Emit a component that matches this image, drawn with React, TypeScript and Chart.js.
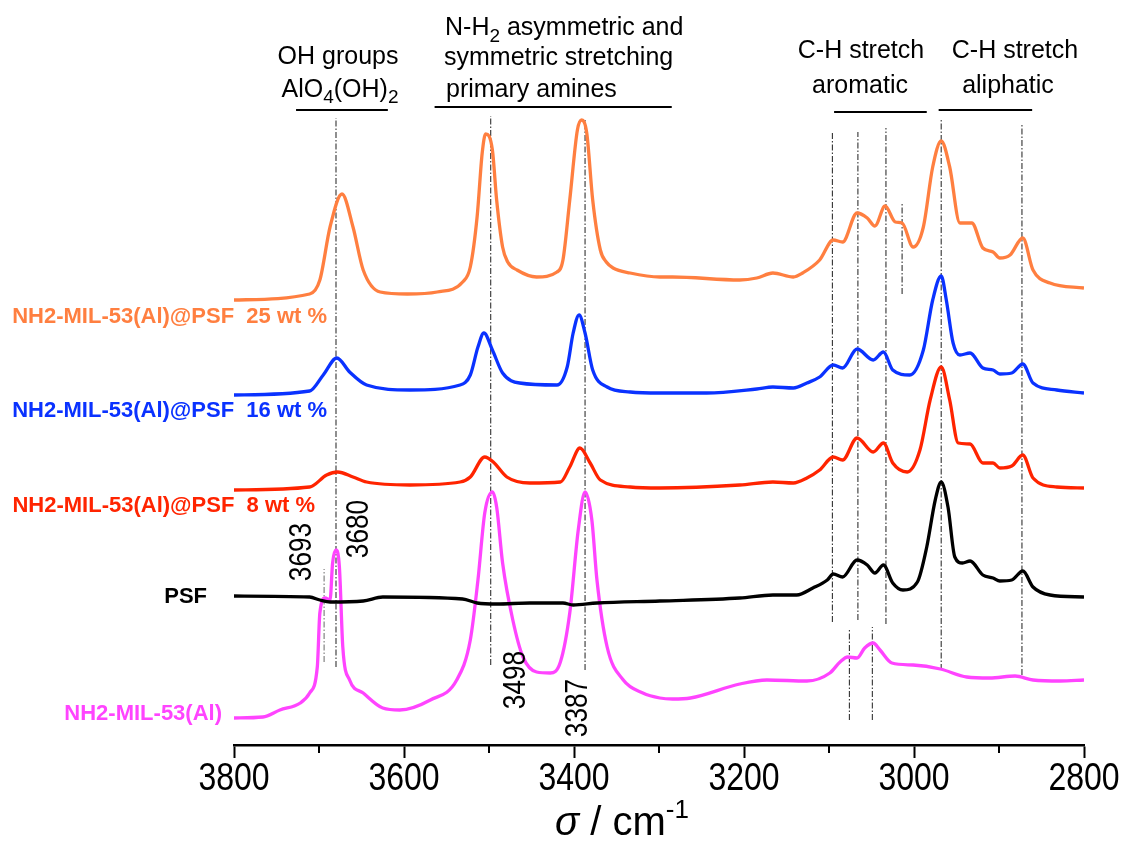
import React, { useEffect, useRef } from 'react';
import { Chart, registerables } from 'chart.js';

Chart.register(...registerables);

// ---------- DATA (wavenumber in cm-1, intensity in offset a.u.) ----------
const xTickLabels = [3800, 3600, 3400, 3200, 3000, 2800];

const wn25 = [3800, 3711, 3699, 3687, 3673, 3660, 3648, 3628, 3596, 3561, 3531, 3522, 3514, 3508, 3504, 3496, 3491, 3484, 3478, 3467, 3444, 3420, 3413, 3405, 3396, 3391, 3385, 3378, 3369, 3362, 3354, 3334, 3299, 3284, 3205, 3185, 3166, 3142, 3131, 3111, 3095, 3084, 3067, 3055, 3046, 3034, 3022, 3014, 3001, 2989, 2978, 2968, 2958, 2946, 2932, 2919, 2907, 2899, 2887, 2872, 2860, 2840, 2800];
const int25 = [4.45, 4.51, 4.65, 5.18, 5.51, 5.18, 4.75, 4.53, 4.51, 4.53, 4.63, 4.78, 5.28, 5.92, 6.11, 5.95, 5.45, 4.98, 4.83, 4.75, 4.68, 4.73, 4.85, 5.45, 6.15, 6.25, 6.12, 5.45, 4.95, 4.83, 4.77, 4.72, 4.68, 4.68, 4.65, 4.67, 4.72, 4.68, 4.72, 4.85, 5.05, 5.03, 5.32, 5.27, 5.19, 5.39, 5.23, 5.22, 4.98, 5.18, 5.78, 6.04, 5.78, 5.22, 5.22, 4.97, 4.93, 4.87, 4.90, 5.07, 4.75, 4.62, 4.57];

const wn16 = [3800, 3711, 3695, 3679, 3664, 3644, 3593, 3534, 3522, 3513, 3506, 3496, 3484, 3464, 3420, 3408, 3401, 3394, 3387, 3378, 3361, 3334, 3299, 3244, 3185, 3166, 3142, 3126, 3111, 3095, 3084, 3067, 3048, 3036, 3025, 3005, 2989, 2978, 2968, 2962, 2954, 2946, 2934, 2919, 2907, 2899, 2885, 2872, 2860, 2832, 2800];
const int16 = [3.50, 3.54, 3.70, 3.87, 3.73, 3.60, 3.55, 3.60, 3.70, 3.98, 4.12, 3.95, 3.72, 3.62, 3.60, 3.78, 4.12, 4.30, 4.12, 3.75, 3.58, 3.53, 3.52, 3.52, 3.56, 3.58, 3.57, 3.62, 3.68, 3.80, 3.77, 3.96, 3.85, 3.93, 3.75, 3.70, 3.95, 4.45, 4.69, 4.45, 4.02, 3.90, 3.92, 3.77, 3.75, 3.71, 3.72, 3.81, 3.62, 3.55, 3.52];

const wn8 = [3800, 3711, 3691, 3678, 3660, 3644, 3593, 3534, 3522, 3505, 3495, 3479, 3452, 3416, 3405, 3393, 3381, 3369, 3334, 3299, 3205, 3166, 3142, 3126, 3111, 3095, 3084, 3067, 3048, 3036, 3025, 3008, 2993, 2981, 2968, 2958, 2948, 2934, 2919, 2907, 2899, 2885, 2872, 2860, 2832, 2800];
const int8 = [2.55, 2.58, 2.70, 2.73, 2.68, 2.63, 2.60, 2.63, 2.68, 2.88, 2.83, 2.68, 2.62, 2.63, 2.78, 2.97, 2.82, 2.65, 2.58, 2.57, 2.60, 2.63, 2.62, 2.67, 2.75, 2.88, 2.85, 3.07, 2.93, 3.02, 2.82, 2.73, 2.95, 3.45, 3.78, 3.45, 3.02, 3.01, 2.82, 2.82, 2.77, 2.79, 2.90, 2.67, 2.58, 2.57];

const wnPSF = [3800, 3711, 3699, 3687, 3648, 3625, 3531, 3514, 3491, 3452, 3413, 3401, 3373, 3299, 3205, 3166, 3138, 3119, 3102, 3095, 3084, 3067, 3055, 3046, 3036, 3025, 3013, 2996, 2985, 2975, 2968, 2960, 2952, 2943, 2934, 2919, 2907, 2899, 2885, 2872, 2860, 2840, 2800];
const intPSF = [1.49, 1.48, 1.45, 1.43, 1.44, 1.48, 1.46, 1.42, 1.41, 1.42, 1.42, 1.40, 1.42, 1.44, 1.47, 1.50, 1.50, 1.57, 1.65, 1.71, 1.68, 1.85, 1.80, 1.72, 1.80, 1.62, 1.55, 1.63, 1.98, 2.45, 2.63, 2.38, 1.88, 1.82, 1.84, 1.70, 1.67, 1.64, 1.65, 1.74, 1.58, 1.50, 1.48];

const wnMOF = [3800, 3766, 3746, 3722, 3711, 3702, 3699, 3693, 3687, 3684, 3680, 3676, 3672, 3664, 3648, 3625, 3605, 3569, 3538, 3522, 3513, 3505, 3496, 3491, 3484, 3472, 3460, 3444, 3428, 3416, 3405, 3395, 3387, 3379, 3373, 3361, 3342, 3319, 3299, 3284, 3263, 3205, 3173, 3126, 3099, 3087, 3078, 3067, 3058, 3048, 3040, 3026, 3001, 2969, 2938, 2911, 2881, 2860, 2828, 2800];
const intMOF = [0.27, 0.28, 0.35, 0.42, 0.52, 0.78, 1.32, 1.47, 1.45, 1.82, 1.95, 1.78, 0.98, 0.65, 0.52, 0.37, 0.35, 0.45, 0.65, 1.05, 1.65, 2.32, 2.53, 2.38, 1.82, 1.25, 0.88, 0.73, 0.72, 0.83, 1.32, 2.15, 2.53, 2.25, 1.65, 0.98, 0.65, 0.52, 0.47, 0.46, 0.47, 0.61, 0.65, 0.64, 0.72, 0.83, 0.88, 0.87, 0.97, 1.02, 0.95, 0.82, 0.80, 0.76, 0.68, 0.67, 0.69, 0.65, 0.64, 0.65];

// reference (dash-dot) lines: wavenumber, lower and upper intensity
const refWn = [3680, 3694, 3498, 3387, 3096, 3066, 3033, 3014, 2968, 2873, 3076, 3049];
const refLow = [0.78, 0.83, 0.80, 0.75, 1.23, 1.25, 1.21, 4.51, 0.75, 0.70, 0.25, 0.25];
const refHigh = [6.27, 1.76, 6.29, 6.25, 6.12, 6.13, 6.17, 5.43, 6.25, 6.21, 1.16, 1.18];

// group brackets: start/end wavenumber, level
const bracketFrom = [3727, 3564, 3094, 2971];
const bracketTo = [3619, 3285, 2985, 2861];
const bracketLevel = [6.35, 6.38, 6.33, 6.35];

const seriesNames = ['NH2-MIL-53(Al)@PSF  25 wt %', 'NH2-MIL-53(Al)@PSF  16 wt %', 'NH2-MIL-53(Al)@PSF  8 wt %', 'PSF', 'NH2-MIL-53(Al)'];
const peakLabels = ['3693', '3680', '3498', '3387'];

// ---------- styling ----------
const COLORS = ['#FF7F40', '#0A32FF', '#FF2400', '#000000', '#FF44FF'];
const SANS = '"Liberation Sans", Arial, Helvetica, sans-serif';
const CONDENSE = 0.82;

const zip = (xs: number[], ys: number[]) => xs.map((x, i) => ({ x, y: ys[i] }));

type Part = { t: string; sub?: boolean; sup?: boolean; italic?: boolean };

function drawRich(ctx: CanvasRenderingContext2D, parts: Part[], x: number, y: number, align: 'left' | 'center' | 'right', size: number, family: string, subSize: number, subShift: number) {
  const fontFor = (p: Part) => `${p.italic ? 'italic ' : ''}${p.sub || p.sup ? subSize : size}px ${family}`;
  let total = 0;
  for (const p of parts) {
    ctx.font = fontFor(p);
    total += ctx.measureText(p.t).width;
  }
  let cx = align === 'left' ? x : align === 'center' ? x - total / 2 : x - total;
  ctx.textAlign = 'left';
  ctx.textBaseline = 'alphabetic';
  for (const p of parts) {
    ctx.font = fontFor(p);
    const dy = p.sub ? subShift : p.sup ? -subShift : 0;
    ctx.fillText(p.t, cx, y + dy);
    cx += ctx.measureText(p.t).width;
  }
}

const textPlugin = {
  id: 'annotText',
  afterDraw(chart: any) {
    const ctx: CanvasRenderingContext2D = chart.ctx;
    const xs = chart.scales.x;
    const area = chart.chartArea;
    ctx.save();
    // minor ticks
    ctx.strokeStyle = '#000';
    ctx.lineWidth = 2;
    for (let v = 3700; v > 2800; v -= 200) {
      const px = Math.round(xs.getPixelForValue(v));
      ctx.beginPath();
      ctx.moveTo(px, area.bottom);
      ctx.lineTo(px, area.bottom + 8);
      ctx.stroke();
    }

    // tick labels (condensed face)
    ctx.fillStyle = '#000';
    ctx.font = `39px ${SANS}`;
    ctx.textAlign = 'center';
    ctx.textBaseline = 'alphabetic';
    xTickLabels.forEach((v) => {
      const px = xs.getPixelForValue(v);
      ctx.save();
      ctx.translate(px, area.bottom + 45);
      ctx.scale(CONDENSE, 1);
      ctx.fillText(String(v), 0, 0);
      ctx.restore();
    });

    // group headings
    drawRich(ctx, [{ t: 'OH groups' }], 338, 64, 'center', 25, SANS, 19, 6);
    drawRich(ctx, [{ t: 'AlO' }, { t: '4', sub: true }, { t: '(OH)' }, { t: '2', sub: true }], 340, 97, 'center', 25, SANS, 19, 6);
    drawRich(ctx, [{ t: 'N-H' }, { t: '2', sub: true }, { t: ' asymmetric and' }], 445, 35, 'left', 25, SANS, 19, 7);
    drawRich(ctx, [{ t: 'symmetric stretching' }], 444, 65, 'left', 25, SANS, 19, 6);
    drawRich(ctx, [{ t: 'primary amines' }], 446, 97, 'left', 25, SANS, 19, 6);
    drawRich(ctx, [{ t: 'C-H stretch' }], 861, 58, 'center', 25, SANS, 19, 6);
    drawRich(ctx, [{ t: 'aromatic' }], 860, 93, 'center', 25, SANS, 19, 6);
    drawRich(ctx, [{ t: 'C-H stretch' }], 1015, 58, 'center', 25, SANS, 19, 6);
    drawRich(ctx, [{ t: 'aliphatic' }], 1008, 93, 'center', 25, SANS, 19, 6);

    // series labels
    const labelPos = [[327, 323], [327, 417], [315, 512], [207, 603], [222, 720]];
    ctx.font = `bold 22px ${SANS}`;
    ctx.textAlign = 'right';
    ctx.textBaseline = 'alphabetic';
    seriesNames.forEach((n, i) => {
      ctx.fillStyle = COLORS[i];
      ctx.fillText(n, labelPos[i][0], labelPos[i][1]);
    });

    // rotated peak labels
    const rotPos = [[300, 552], [357, 529], [514, 680], [576, 708]];
    ctx.fillStyle = '#000';
    ctx.font = `32px ${SANS}`;
    ctx.textAlign = 'center';
    ctx.textBaseline = 'alphabetic';
    peakLabels.forEach((t, i) => {
      ctx.save();
      ctx.translate(rotPos[i][0], rotPos[i][1]);
      ctx.rotate(-Math.PI / 2);
      ctx.scale(CONDENSE, 1);
      ctx.fillText(t, 0, 32 * 0.358);
      ctx.restore();
    });

    // axis title
    drawRich(ctx, [{ t: 'σ', italic: true }, { t: ' / cm' }, { t: '-1', sup: true }], 622, 835, 'center', 40, SANS, 26, 17);
    ctx.restore();
  },
};

export default function App() {
  const ref = useRef<HTMLCanvasElement>(null);
  useEffect(() => {
    if (!ref.current) return;
    const spectra = [
      zip(wn25, int25),
      zip(wn16, int16),
      zip(wn8, int8),
      zip(wnPSF, intPSF),
      zip(wnMOF, intMOF),
    ].map((data, i) => ({
      label: seriesNames[i],
      data,
      borderColor: COLORS[i],
      borderWidth: 3.3,
      pointRadius: 0,
      cubicInterpolationMode: 'monotone' as const,
      fill: false,
    }));
    const refs = refWn.map((w, i) => ({
      label: 'ref' + i,
      data: [{ x: w, y: refLow[i] }, { x: w, y: refHigh[i] }],
      borderColor: i === 1 ? '#777' : '#333',
      borderWidth: 1.1,
      borderDash: [6, 2, 1.5, 2],
      pointRadius: 0,
      fill: false,
    }));
    const brackets = bracketFrom.map((w, i) => ({
      label: 'br' + i,
      data: [{ x: w, y: bracketLevel[i] }, { x: bracketTo[i], y: bracketLevel[i] }],
      borderColor: '#000',
      borderWidth: 2,
      pointRadius: 0,
      fill: false,
    }));
    const chart = new Chart(ref.current, {
      type: 'line',
      data: { datasets: [...spectra, ...refs, ...brackets] as any },
      options: {
        animation: false,
        responsive: false,
        devicePixelRatio: 1,
        events: [],
        layout: { padding: { left: 234, right: 42, top: 20, bottom: 86 } },
        plugins: { legend: { display: false }, tooltip: { enabled: false } },
        scales: {
          x: {
            type: 'linear',
            reverse: true,
            min: 2800,
            max: 3800,
            border: { display: true, color: '#000', width: 2.5 },
            grid: {
              drawOnChartArea: false,
              drawTicks: true,
              tickLength: 13,
              tickWidth: 2,
              tickColor: (c: any) => (c.tick && c.tick.value % 200 === 0 ? '#000' : 'rgba(0,0,0,0)'),
            },
            ticks: {
              display: false,
              stepSize: 100,
              autoSkip: false,
            },
            title: { display: false },
          },
          y: { display: false, min: 0, max: 7.25 },
        },
      },
      plugins: [textPlugin],
    });
    return () => chart.destroy();
  }, []);
  return (
    <div style={{ position: 'fixed', left: 0, top: 0, width: 1126, height: 844, background: '#fff' }}>
      <canvas ref={ref} width={1126} height={844} style={{ display: 'block', width: 1126, height: 844 }} />
    </div>
  );
}
